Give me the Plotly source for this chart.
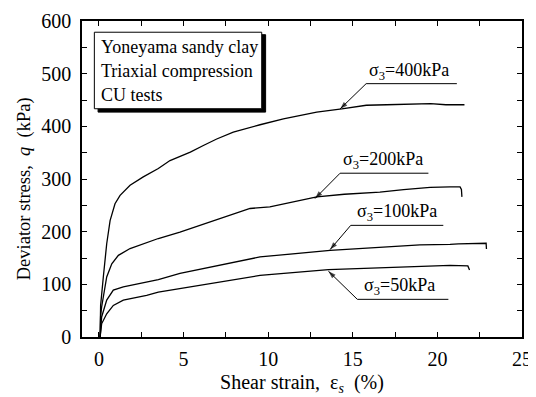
import plotly.graph_objects as go

# ---------------- data ----------------
eps_400 = [0.07, 0.08, 0.10, 0.26, 0.46, 0.66, 0.95, 1.25, 1.84, 2.62, 3.51, 4.2, 5.4, 6.2, 6.96,
           7.94, 8.9, 9.52, 10.9, 12.0, 12.87, 14.35, 15.8, 17.0, 18.5, 19.6, 20.5, 21.6]
q_400 = [0, 30, 60, 114, 177, 221, 253, 269, 288, 304, 320, 335, 351, 364, 376,
         389, 398, 403, 414, 422, 427, 433, 440, 441, 442, 443, 441, 441]

eps_200 = [0.07, 0.10, 0.16, 0.46, 0.76, 1.15, 1.84, 2.82, 3.51, 4.79, 6.76, 8.93, 10.1, 12.87,
           14.5, 16.6, 18.0, 19.57, 20.75, 21.34, 21.42, 21.45]
q_200 = [0, 40, 57, 114, 139, 155, 168, 180, 187, 199, 221, 244, 247, 266,
         271, 275, 280, 284, 285, 285, 280, 266]

eps_100 = [0.07, 0.10, 0.16, 0.46, 0.85, 1.44, 2.82, 3.51, 4.79, 6.76, 8.93, 9.52, 13.66,
           16.6, 18.97, 20.75, 21.24, 22.88, 22.9]
q_100 = [0, 25, 38, 70, 89, 95, 104, 109, 121, 134, 147, 152, 164.5,
         171, 175, 176, 177, 178, 167]

eps_50 = [0.07, 0.10, 0.16, 0.46, 0.85, 1.44, 2.82, 3.51, 4.79, 6.76, 8.93, 9.52, 13.56,
          16.8, 19.0, 20.75, 21.8, 21.9]
q_50 = [0, 15, 25, 44, 60, 70, 79, 85, 92, 102, 114, 117, 128,
        132, 134, 136, 135, 127]

series = [(eps_400, q_400), (eps_200, q_200), (eps_100, q_100), (eps_50, q_50)]

x_ticks = [0, 5, 10, 15, 20, 25]
y_ticks = [0, 100, 200, 300, 400, 500, 600]

box_lines = ["Yoneyama sandy clay", "Triaxial compression", "CU tests"]

labels = ["σ<sub>3</sub>=400kPa", "σ<sub>3</sub>=200kPa", "σ<sub>3</sub>=100kPa", "σ<sub>3</sub>=50kPa"]
# arrow head (on curve) -> tail (elbow) -> end of horizontal leader
arrow_head = [(14.25, 433), (12.77, 263), (13.66, 166), (13.56, 125)]
arrow_tail = [(15.79, 481), (14.25, 311), (14.88, 212), (15.27, 71.5)]
leader_end = [21.15, 19.47, 20.35, 20.65]
label_x = [18.33, 16.79, 17.6, 17.78]

FONT = "Liberation Serif, Times New Roman, serif"

fig = go.Figure()
for ex, qy in series:
    fig.add_trace(go.Scatter(x=ex, y=qy, mode="lines",
                             line=dict(color="black", width=1.3), showlegend=False,
                             hoverinfo="skip"))

shapes = []
annotations = []
for lab, (hx, hy), (tx, ty), le, lx in zip(labels, arrow_head, arrow_tail, leader_end, label_x):
    # leader: horizontal line under the label, then arrow from elbow to curve
    fig.add_trace(go.Scatter(x=[le, tx, hx], y=[ty, ty, hy], mode="lines+markers",
                             line=dict(color="black", width=1),
                             marker=dict(symbol="arrow", angleref="previous",
                                         size=[0, 0, 8], color="black",
                                         line=dict(width=0)),
                             showlegend=False, hoverinfo="skip"))
    annotations.append(dict(x=lx, y=ty, xref="x", yref="y", text=lab,
                            showarrow=False, yanchor="bottom", xanchor="center", yshift=-1,
                            font=dict(family=FONT, size=18, color="black")))

# info box with shadow
shapes.append(dict(type="rect", xref="x", yref="y", x0=-0.05, x1=9.85, y0=427, y1=574,
                   fillcolor="black", line=dict(color="black", width=1), layer="above"))
shapes.append(dict(type="rect", xref="x", yref="y", x0=-0.27, x1=9.62, y0=433.4, y1=578.7,
                   fillcolor="white", line=dict(color="black", width=1), layer="above"))
for txt, yy in zip(box_lines, [550, 506, 460]):
    annotations.append(dict(x=0.03, y=yy, xref="x", yref="y", text=txt, showarrow=False,
                            xanchor="left", yanchor="middle",
                            font=dict(family=FONT, size=18, color="black")))

# y-axis title, placed as a rotated annotation
annotations.append(dict(x=-0.13, y=0.47, xref="paper", yref="paper",
                        text="Deviator stress,  <i>q</i>  (kPa)", textangle=-90,
                        showarrow=False, xanchor="center", yanchor="middle",
                        font=dict(family=FONT, size=18.5, color="black")))

axis_common = dict(showline=True, linecolor="black", linewidth=1.5, mirror="ticks",
                   ticks="inside", ticklen=5, tickwidth=1, tickcolor="black",
                   showgrid=False, zeroline=False, automargin=False,
                   tickfont=dict(family=FONT, size=20, color="black"))

# the page adds an 8px body margin, so the figure is made 8px smaller on each leading side
fig.update_layout(
    width=528, height=389,
    margin=dict(l=74, r=14, t=13, b=60),
    paper_bgcolor="white", plot_bgcolor="white",
    shapes=shapes, annotations=annotations,
    xaxis=dict(range=[-1, 25], tickvals=x_ticks,
               minor=dict(ticks="inside", ticklen=5, dtick=2.5, tick0=0, tickcolor="black"),
               title=dict(text="Shear strain,  ε<sub><i>s</i></sub>  (%)", standoff=6,
                          font=dict(family=FONT, size=20, color="black")),
               ticklabelstandoff=3,
               **axis_common),
    yaxis=dict(range=[0, 600], tickvals=y_ticks,
               minor=dict(ticks="inside", ticklen=5, dtick=50, tick0=0, tickcolor="black"),
               ticklabelstandoff=5,
               **axis_common),
)

fig.write_html("out.html")
